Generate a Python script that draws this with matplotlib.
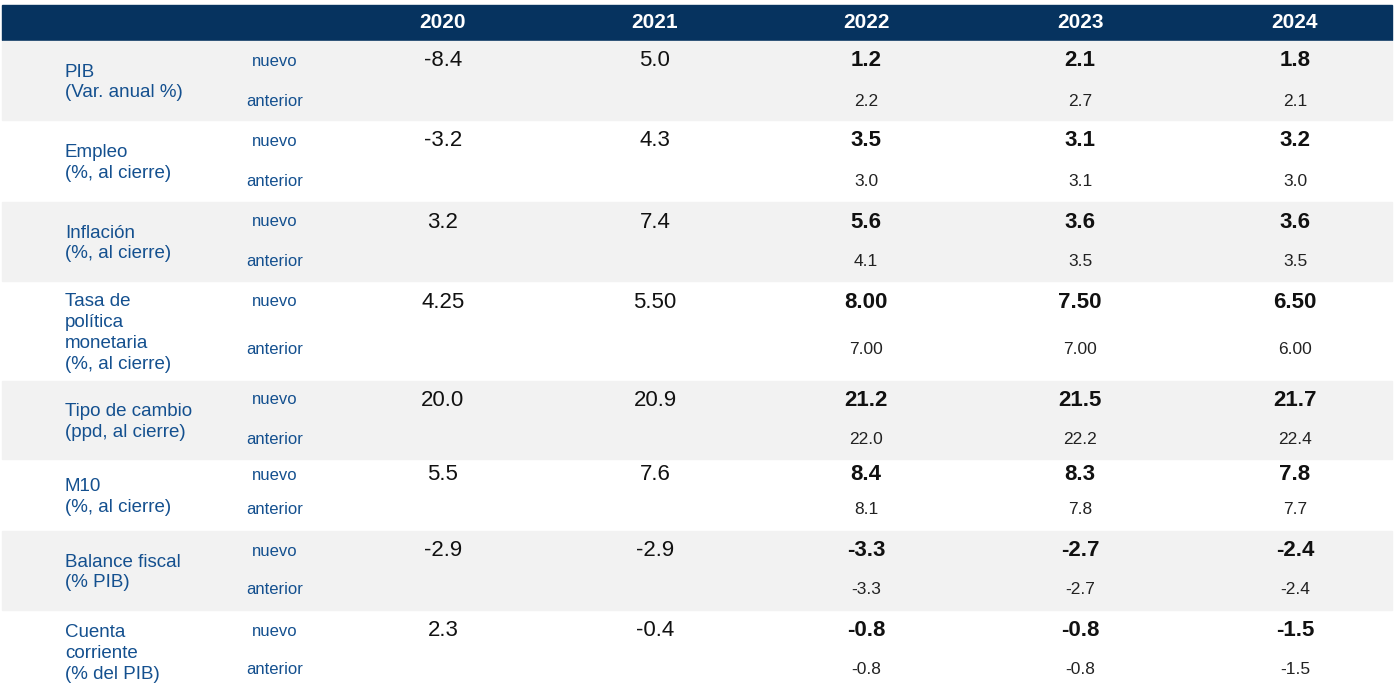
import matplotlib.pyplot as plt
from matplotlib.patches import Rectangle

years = ['2020', '2021', '2022', '2023', '2024']
labels = ['PIB\n(Var. anual %)', 'Empleo\n(%, al cierre)', 'Inflación\n(%, al cierre)',
          'Tasa de\npolítica\nmonetaria\n(%, al cierre)', 'Tipo de cambio\n(ppd, al cierre)',
          'M10\n(%, al cierre)', 'Balance fiscal\n(% PIB)', 'Cuenta\ncorriente\n(% del PIB)']
nuevo = [['-8.4', '5.0', '1.2', '2.1', '1.8'],
         ['-3.2', '4.3', '3.5', '3.1', '3.2'],
         ['3.2', '7.4', '5.6', '3.6', '3.6'],
         ['4.25', '5.50', '8.00', '7.50', '6.50'],
         ['20.0', '20.9', '21.2', '21.5', '21.7'],
         ['5.5', '7.6', '8.4', '8.3', '7.8'],
         ['-2.9', '-2.9', '-3.3', '-2.7', '-2.4'],
         ['2.3', '-0.4', '-0.8', '-0.8', '-1.5']]
anterior = [['2.2', '2.7', '2.1'],
            ['3.0', '3.1', '3.0'],
            ['4.1', '3.5', '3.5'],
            ['7.00', '7.00', '6.00'],
            ['22.0', '22.2', '22.4'],
            ['8.1', '7.8', '7.7'],
            ['-3.3', '-2.7', '-2.4'],
            ['-0.8', '-0.8', '-1.5']]

# layout in pixels
row_edges = [40, 121, 201, 282, 380, 460, 530, 611, 692]
nuevo_y = [61, 141, 222, 302, 400, 475, 551, 631]
ant_y = [101, 181, 262, 350, 439, 509, 590, 670]
col_x = [443, 655, 866, 1080, 1295]
navy = '#06335f'
blue = '#14508f'

plt.rcParams['font.family'] = 'Liberation Sans'
fig = plt.figure(figsize=(13.94, 6.98), dpi=100)
ax = fig.add_axes([0, 0, 1, 1])
ax.set_xlim(0, 1394)
ax.set_ylim(698, 0)
ax.axis('off')

ax.add_patch(Rectangle((2, 5), 1390, 35, color=navy))
for x, yr in zip(col_x, years):
    ax.text(x, 23, yr, color='white', fontsize=15, fontweight='bold', ha='center', va='center')

for i in range(len(labels)):
    y0, y1 = row_edges[i], row_edges[i + 1]
    if i % 2 == 0:
        ax.add_patch(Rectangle((2, y0 + 1), 1390, y1 - y0 - 2, color='#f2f2f2'))
    ax.text(65, (y0 + y1) / 2 + 2, labels[i], color=blue, fontsize=13.5, ha='left', va='center',
            linespacing=1.3)
    ax.text(275, nuevo_y[i], 'nuevo', color=blue, fontsize=12, ha='center', va='center')
    ax.text(275, ant_y[i], 'anterior', color=blue, fontsize=12, ha='center', va='center')
    for j, v in enumerate(nuevo[i]):
        ax.text(col_x[j], nuevo_y[i], v, fontsize=16, ha='center', va='center',
                fontweight='bold' if j >= 2 else 'normal', color='#111111')
    for j, v in enumerate(anterior[i]):
        ax.text(col_x[j + 2], ant_y[i], v, fontsize=12.5, ha='center', va='center', color='#222222')

fig.savefig('out.png', dpi=100)
